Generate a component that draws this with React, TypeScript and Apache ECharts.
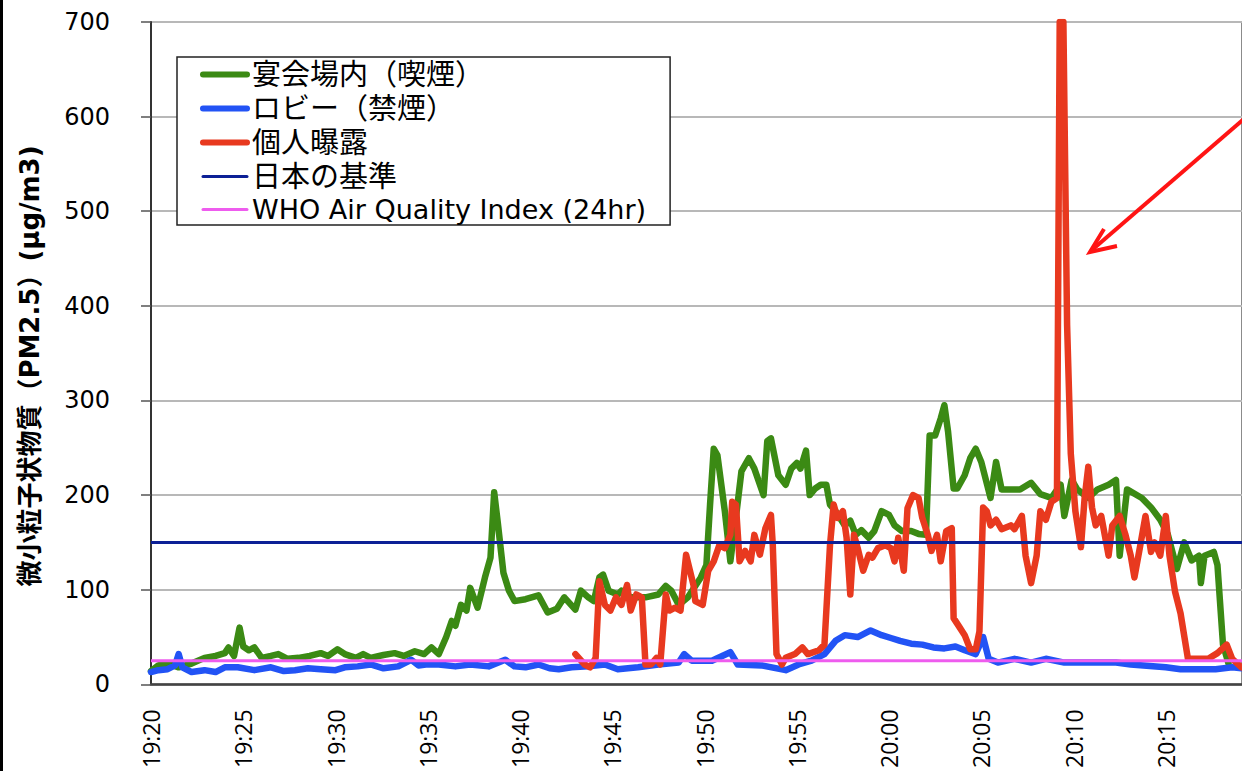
import React, { useEffect, useRef } from 'react';
import * as echarts from 'echarts';

// ---- axis settings ----
const START_HOUR = 19;
const START_MINUTE = 20;
const X_MAX = 59.13; // minutes after 19:20 visible at the right edge
const X_INTERVAL = 5;
const Y_MAX = 700;
const Y_INTERVAL = 100;

// ---- reference levels (µg/m3) ----
const JAPAN_STANDARD = 150;
const WHO_AQI = 25;

// ---- series names ----
const seriesNames = [
  '宴会場内（喫煙）',
  'ロビー（禁煙）',
  '個人曝露',
  '日本の基準',
  'WHO Air Quality Index (24hr)',
];

// ---- data: [minutes after 19:20, PM2.5 µg/m3] ----
const banquetRoom: [number, number][] = [
  [0.0, 14], [0.4, 20], [0.9, 22], [1.5, 18], [2.2, 22], [2.9, 28], [3.5, 30], [4.0, 33], [4.2, 39], [4.5, 30],
  [4.8, 60], [5.0, 40], [5.3, 36], [5.6, 39], [6.0, 28], [6.5, 30], [6.9, 32], [7.4, 27], [8.0, 28], [8.6, 30],
  [9.2, 33], [9.6, 30], [10.1, 37], [10.5, 32], [11.1, 28], [11.5, 32], [11.9, 28], [12.6, 31], [13.2, 33], [13.7, 30],
  [14.3, 35], [14.8, 32], [15.2, 39], [15.6, 32], [16.0, 50], [16.3, 67], [16.5, 62], [16.8, 84], [17.1, 78], [17.3, 102],
  [17.7, 81], [18.1, 113], [18.4, 134], [18.6, 203], [18.8, 170], [19.1, 118], [19.4, 99], [19.7, 88], [20.3, 90], [21.0, 94],
  [21.5, 76], [22.0, 80], [22.4, 92], [23.0, 79], [23.3, 99], [23.7, 92], [24.0, 88], [24.3, 113], [24.5, 116], [24.8, 99],
  [25.3, 95], [25.5, 99], [26.0, 92], [26.8, 92], [27.5, 95], [27.9, 104], [28.2, 99], [28.6, 84], [29.1, 92], [29.8, 113],
  [30.1, 126], [30.3, 190], [30.5, 249], [30.7, 242], [31.1, 183], [31.4, 130], [31.7, 176], [32.0, 225], [32.4, 239], [32.7, 228],
  [33.2, 200], [33.4, 257], [33.6, 260], [34.0, 221], [34.4, 211], [34.7, 228], [35.0, 234], [35.2, 228], [35.5, 247], [35.7, 200],
  [36.0, 207], [36.3, 211], [36.6, 211], [36.8, 190], [37.1, 183], [37.6, 168], [37.9, 173], [38.2, 158], [38.5, 163], [38.9, 155],
  [39.2, 162], [39.6, 183], [40.0, 179], [40.3, 168], [40.7, 162], [41.2, 162], [41.6, 159], [42.0, 158], [42.2, 263], [42.5, 263],
  [42.8, 281], [43.0, 295], [43.2, 267], [43.5, 207], [43.7, 207], [44.1, 221], [44.4, 239], [44.7, 249], [45.0, 235], [45.5, 197],
  [45.8, 235], [46.1, 206], [46.6, 206], [47.1, 206], [47.7, 213], [48.2, 201], [48.8, 197], [49.3, 211], [49.5, 178], [49.9, 216],
  [50.2, 206], [50.8, 197], [51.3, 206], [51.9, 211], [52.3, 216], [52.5, 136], [52.9, 206], [53.7, 197], [54.2, 187], [54.7, 174],
  [55.1, 159], [55.6, 122], [56.0, 150], [56.4, 131], [56.8, 136], [56.9, 107], [57.1, 136], [57.6, 140], [57.8, 126], [58.1, 42],
  [58.4, 22],
];

const lobby: [number, number][] = [
  [0.0, 13], [0.4, 15], [0.9, 16], [1.3, 20], [1.5, 32], [1.7, 18], [2.2, 13], [2.9, 15], [3.5, 13], [4.0, 18],
  [4.7, 18], [5.6, 15], [6.5, 18], [7.2, 14], [7.8, 15], [8.5, 17], [9.2, 16], [10.0, 15], [10.5, 18], [11.2, 19],
  [11.9, 21], [12.6, 17], [13.4, 19], [14.1, 26], [14.5, 20], [14.9, 21], [15.6, 21], [16.5, 19], [17.3, 21], [18.3, 19],
  [19.2, 26], [19.7, 19], [20.3, 18], [21.0, 21], [21.6, 17], [22.1, 16], [22.8, 18], [23.7, 19], [24.6, 21], [25.3, 16],
  [26.4, 18], [27.5, 21], [28.6, 23], [28.9, 32], [29.3, 25], [30.4, 25], [31.4, 34], [31.8, 21], [33.1, 20], [34.4, 15],
  [35.1, 21], [35.8, 25], [36.5, 32], [37.1, 46], [37.6, 52], [38.3, 50], [39.0, 57], [39.6, 52], [40.1, 49], [40.6, 46],
  [41.2, 43], [41.8, 42], [42.4, 39], [43.0, 38], [43.6, 40], [44.1, 36], [44.7, 32], [45.1, 50], [45.4, 27], [45.9, 23],
  [46.8, 27], [47.7, 23], [48.5, 27], [49.5, 23], [50.4, 23], [51.3, 23], [52.3, 23], [53.1, 21], [55.0, 18], [55.8, 16],
  [56.8, 16], [57.7, 16], [58.6, 18], [59.1, 17],
];

const personalExposure: [number, number][] = [
  [23.0, 32], [23.5, 21], [23.8, 18], [24.1, 28], [24.3, 109], [24.6, 84], [24.9, 78], [25.2, 92], [25.5, 84], [25.8, 105],
  [26.0, 78], [26.3, 95], [26.6, 92], [26.8, 21], [27.1, 21], [27.4, 28], [27.6, 21], [27.9, 95], [28.1, 78], [28.4, 81],
  [28.7, 78], [29.0, 137], [29.4, 105], [29.5, 88], [29.9, 84], [30.2, 120], [30.5, 130], [30.8, 147], [31.1, 144], [31.4, 158],
  [31.5, 193], [31.7, 190], [31.9, 130], [32.2, 141], [32.5, 130], [32.7, 158], [33.0, 137], [33.3, 165], [33.6, 179], [33.7, 147],
  [33.9, 32], [34.2, 21], [34.4, 28], [34.9, 32], [35.3, 39], [35.6, 32], [36.2, 36], [36.5, 42], [36.8, 147], [37.0, 190],
  [37.2, 176], [37.5, 183], [37.7, 155], [37.9, 95], [38.1, 158], [38.3, 144], [38.6, 120], [38.9, 137], [39.1, 134], [39.4, 144],
  [39.8, 147], [40.1, 144], [40.3, 130], [40.5, 155], [40.8, 120], [41.0, 186], [41.3, 200], [41.6, 197], [41.8, 176], [42.1, 158],
  [42.3, 141], [42.6, 158], [42.8, 130], [43.1, 162], [43.4, 165], [43.5, 70], [43.8, 61], [44.1, 52], [44.4, 37], [44.7, 37],
  [44.9, 56], [45.1, 187], [45.3, 183], [45.5, 168], [45.8, 174], [46.1, 164], [46.6, 168], [46.8, 164], [47.2, 178], [47.4, 136],
  [47.7, 107], [48.0, 136], [48.2, 183], [48.5, 174], [48.8, 193], [49.1, 197], [49.25, 700], [49.45, 700], [49.65, 380], [49.85, 244],
  [50.1, 183], [50.4, 145], [50.6, 197], [50.8, 230], [51.0, 187], [51.2, 168], [51.5, 178], [51.9, 136], [52.1, 168], [52.5, 178],
  [52.8, 159], [53.1, 136], [53.3, 113], [53.6, 145], [53.9, 178], [54.2, 140], [54.4, 150], [54.7, 136], [55.0, 178], [55.2, 136],
  [55.5, 98], [55.8, 75], [56.2, 27], [56.7, 27], [57.3, 27], [57.8, 33], [58.3, 42], [58.6, 27], [59.1, 18],
];

const Y_TITLE = '微小粒子状物質（PM2.5）(μg/m3)';

const FONT = "'DejaVu Sans', 'Noto Sans CJK JP', sans-serif";
const X_FONT = "'Open Sans', sans-serif";
const COLORS = ['#3b8a14', '#2253f5', '#e8391f', '#0c2096', '#ee5cee'];

function timeLabel(v: number): string {
  const r = Math.round(v / X_INTERVAL) * X_INTERVAL;
  if (Math.abs(v - r) > 0.01) return '';
  const total = START_HOUR * 60 + START_MINUTE + r;
  return `${Math.floor(total / 60)}:${String(total % 60).padStart(2, '0')}`;
}

export default function App() {
  const ref = useRef<HTMLDivElement>(null);

  useEffect(() => {
    if (!ref.current) return;
    const chart = echarts.init(ref.current, undefined, { renderer: 'svg' });
    const thick = (i: number, data: [number, number][]) => ({
      type: 'line',
      name: seriesNames[i],
      data,
      symbol: 'none',
      showSymbol: false,
      lineStyle: { width: 6.5, color: COLORS[i], cap: 'round', join: 'round' },
      itemStyle: { color: COLORS[i] },
    });
    const flat = (i: number, level: number) => ({
      type: 'line',
      name: seriesNames[i],
      data: [[0, level], [X_MAX, level]],
      symbol: 'none',
      showSymbol: false,
      lineStyle: { width: 3, color: COLORS[i] },
      itemStyle: { color: COLORS[i] },
    });

    chart.setOption({
      animation: false,
      backgroundColor: '#fff',
      grid: {
        left: 151, right: 0, top: 22, bottom: 84,
        show: true, borderColor: '#666', borderWidth: 1.5,
      },
      legend: {
        orient: 'vertical',
        left: 177,
        top: 57,
        padding: [3, 24, 2, 23],
        itemGap: 5,
        itemWidth: 44,
        itemHeight: 14,
        borderColor: '#222',
        borderWidth: 1.5,
        backgroundColor: '#fff',
        itemStyle: { opacity: 0 },
        textStyle: { fontSize: 27, fontFamily: FONT, color: '#000' },
        data: seriesNames.map((name, i) => ({
          name,
          lineStyle: { width: i < 3 ? 6 : 3, cap: 'round' },
          textStyle: { fontSize: i < 4 ? 29 : 27, fontFamily: FONT, color: '#000' },
        })),
      },
      xAxis: {
        type: 'value',
        min: 0,
        max: X_MAX,
        interval: X_INTERVAL,
        axisLine: { lineStyle: { color: '#444', width: 2.5 } },
        axisTick: { show: false },
        splitLine: { show: false },
        axisLabel: {
          rotate: 90,
          margin: 25,
          fontSize: 23,
          fontFamily: X_FONT,
          color: '#000',
          padding: [8, 0, 0, 0],
          showMaxLabel: false,
          formatter: timeLabel,
        },
      },
      yAxis: {
        type: 'value',
        min: 0,
        max: Y_MAX,
        interval: Y_INTERVAL,
        axisLine: { show: true, lineStyle: { color: '#333', width: 2 } },
        axisTick: { show: true, length: 10, lineStyle: { color: '#555', width: 1.5 } },
        splitLine: { lineStyle: { color: '#b8b8b8', width: 2 } },
        axisLabel: { fontSize: 24, margin: 41, color: '#000', fontFamily: FONT },
      },
      series: [
        thick(0, banquetRoom),
        thick(1, lobby),
        thick(2, personalExposure),
        flat(3, JAPAN_STANDARD),
        flat(4, WHO_AQI),
      ],
      graphic: [
        { type: 'rect', left: 0, top: 0, shape: { x: 0, y: 0, width: 3, height: 771 }, style: { fill: '#000' }, z: 100 },
        {
          type: 'text',
          x: 30,
          y: 366,
          rotation: Math.PI / 2,
          style: {
            text: Y_TITLE,
            fontSize: 26,
            fontWeight: 'bold',
            fontFamily: FONT,
            fill: '#000',
            align: 'center',
            verticalAlign: 'middle',
          },
          z: 100,
        },
        {
          type: 'line',
          shape: { x1: 1252, y1: 112, x2: 1092, y2: 250 },
          style: { stroke: '#ff1414', lineWidth: 4 },
          z: 100,
        },
        {
          type: 'polyline',
          shape: { points: [[1104, 229], [1090, 252], [1117, 246]] },
          style: { stroke: '#ff1414', lineWidth: 4, fill: null },
          z: 100,
        },
      ],
    });
    return () => chart.dispose();
  }, []);

  return (
    <div
      ref={ref}
      style={{ position: 'fixed', left: 0, top: 0, width: 1242, height: 771, background: '#fff' }}
    />
  );
}
